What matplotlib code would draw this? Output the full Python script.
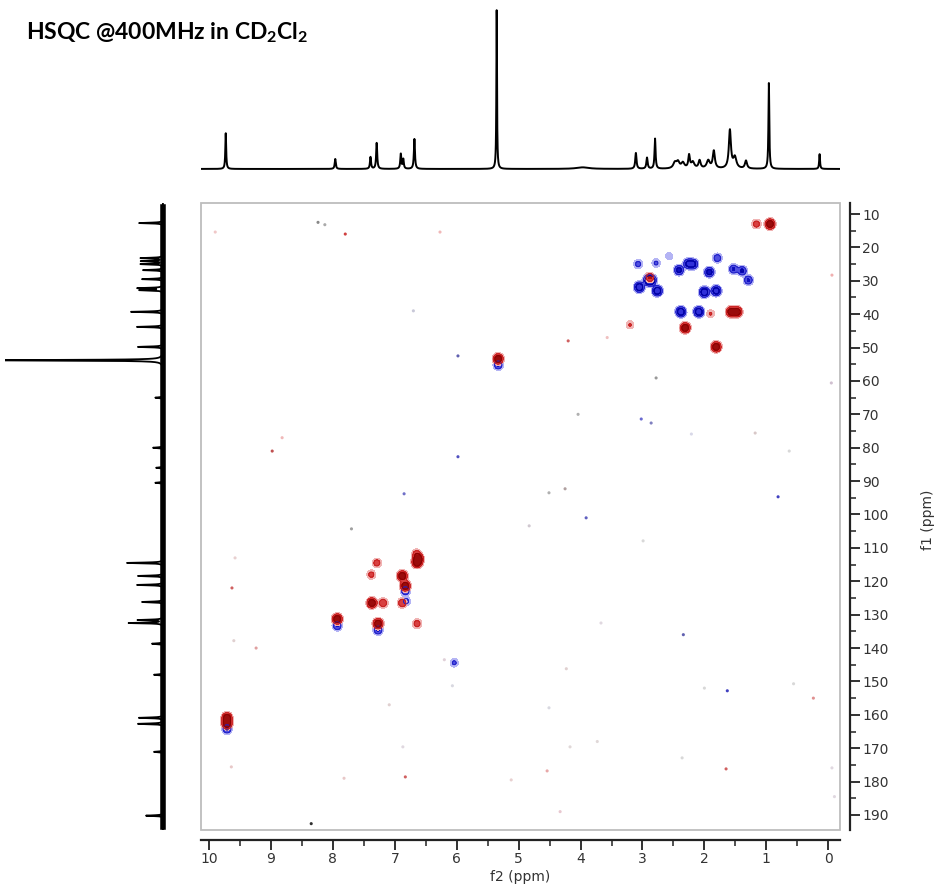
import numpy as np
import matplotlib
matplotlib.use("Agg")
import matplotlib.pyplot as plt
from matplotlib.patches import Rectangle
from matplotlib.ticker import MultipleLocator

plt.rcParams['mathtext.fontset'] = 'custom'
plt.rcParams['mathtext.bf'] = 'Lato:bold'
plt.rcParams['mathtext.rm'] = 'Lato:bold'

# 1H projection (f2): shift ppm, relative height, half-width ppm
h1_shift = [9.70, 7.93, 7.36, 7.26, 6.87, 6.83, 6.65, 5.32, 3.93, 3.07, 2.89, 2.76,
            2.44, 2.39, 2.31, 2.21, 2.15, 2.04, 1.90, 1.81, 1.55, 1.47, 1.29, 0.92, 0.10]
h1_height = [0.226, 0.063, 0.075, 0.164, 0.094, 0.06, 0.189, 1.0, 0.01, 0.10, 0.07, 0.19,
             0.035, 0.04, 0.035, 0.08, 0.04, 0.05, 0.05, 0.11, 0.24, 0.07, 0.05, 0.54, 0.094]
h1_width = [0.008, 0.01, 0.01, 0.01, 0.01, 0.01, 0.01, 0.006, 0.12, 0.012, 0.012, 0.01,
            0.03, 0.03, 0.03, 0.015, 0.03, 0.02, 0.03, 0.02, 0.02, 0.03, 0.02, 0.008, 0.008]

# 13C projection (f1): shift ppm, relative height
c13_shift = [12.7, 23.2, 24.1, 25.0, 26.8, 29.5, 32.2, 32.8, 39.3, 43.8, 49.8, 53.8,
             65.0, 80.0, 86.0, 90.5, 114.5, 118.4, 121.1, 126.2, 131.6, 132.5, 138.7,
             148.0, 160.9, 162.7, 171.1, 190.2]
c13_height = [0.157, 0.144, 0.14, 0.144, 0.13, 0.137, 0.163, 0.15, 0.21, 0.17, 0.163, 1.2,
              0.05, 0.065, 0.045, 0.05, 0.235, 0.163, 0.17, 0.137, 0.163, 0.222, 0.072,
              0.059, 0.157, 0.163, 0.059, 0.111]

# HSQC cross peaks: (f2, f1, amplitude); red = CH/CH3, blue = CH2
red_f2 = [0.94, 1.16, 2.88, 1.47, 1.57, 2.31, 1.81, 3.20, 1.90, 5.33,
          6.64, 6.62, 6.65, 7.29, 7.38, 6.88, 6.83, 7.37, 7.19, 6.88,
          7.93, 7.27, 6.64, 9.71, 9.71]
red_f1 = [13.0, 13.0, 29.0, 39.3, 39.3, 44.1, 49.8, 43.2, 39.9, 53.4,
          114.4, 113.2, 111.8, 114.5, 118.0, 118.4, 121.4, 126.5, 126.5, 126.5,
          131.3, 132.7, 132.7, 160.9, 162.7]
red_amp = [1.0, 0.35, 0.5, 0.9, 0.9, 1.0, 1.0, 0.22, 0.22, 1.0,
           1.0, 0.9, 0.35, 0.35, 0.3, 1.0, 1.0, 1.0, 0.45, 0.45,
           1.0, 1.0, 0.35, 1.0, 1.0]

blue_f2 = [3.07, 2.78, 2.57, 2.41, 2.26, 2.18, 1.92, 1.79, 1.53, 1.39, 1.29,
           3.05, 2.90, 2.86, 2.76, 2.00, 1.81, 2.38, 2.09,
           5.33, 6.83, 6.82, 7.93, 7.27, 9.71, 6.04]
blue_f1 = [25.0, 24.7, 22.6, 26.8, 24.9, 25.0, 27.4, 23.2, 26.5, 27.0, 29.8,
           31.9, 29.8, 29.8, 33.0, 33.4, 33.0, 39.3, 39.3,
           55.2, 122.8, 126.0, 133.3, 134.6, 164.2, 144.4]
blue_amp = [0.3, 0.25, 0.18, 0.7, 0.7, 0.7, 0.75, 0.4, 0.5, 0.55, 0.5,
            1.0, 1.0, 1.0, 1.0, 1.0, 0.9, 1.0, 1.0,
            0.5, 0.5, 0.3, 0.5, 0.5, 0.55, 0.25]

# weak artefact points across the map: (f2, f1, colour)
spot_f2 = [8.24, 8.13, 7.80, 9.90, 6.27, 3.57, -0.06, 2.78, -0.05, 6.70, 4.20, 5.98,
           4.04, 3.02, 2.86, 2.21, 1.18, 8.82, 8.98, 5.98, 0.63, 0.81, 6.85, 4.51,
           4.25, 7.70, 3.91, 4.83, 2.99, 9.58, 9.63, 9.60, 9.24, 2.34, 3.67, 4.23,
           6.20, 6.07, 2.00, 1.63, 0.56, 0.24, 4.51, 7.09, 9.64, 7.82, 6.87, 6.83,
           4.17, 4.54, 5.12, 3.73, 2.36, 1.65, -0.06, -0.10, 4.33, 8.35]
spot_f1 = [12.5, 13.2, 16.0, 15.4, 15.4, 47.0, 28.3, 59.1, 60.6, 39.0, 48.0, 52.5,
           70.0, 71.4, 72.6, 75.9, 75.6, 77.0, 81.0, 82.7, 81.0, 94.7, 93.8, 93.5,
           92.3, 104.3, 101.0, 103.4, 107.9, 113.0, 122.0, 137.8, 140.0, 136.0, 132.5, 146.2,
           143.5, 151.3, 152.0, 152.8, 150.7, 155.0, 157.9, 157.0, 175.6, 179.0, 169.6, 178.6,
           169.6, 176.8, 179.5, 168.0, 172.9, 176.2, 175.9, 184.5, 189.0, 192.6]
spot_col = ['#888888', '#aaaaaa', '#d04040', '#f0c8c8', '#f0b8b8', '#f0c0c0', '#f0b0b0', '#999999',
            '#d0c0d0', '#c8c8d8', '#d06060', '#6060b0', '#b0b0b0', '#6a6ad0', '#8080c0', '#d8d8e8',
            '#d8c8c8', '#f0b8b8', '#c05050', '#5050c0', '#d8d8d8', '#4040c0', '#7070c8', '#b0b0b0',
            '#b0a0a0', '#a0a0a0', '#6060c0', '#d0c8d0', '#d8d8d8', '#e8d0d0', '#d06060', '#e0d0d0',
            '#e0a0a0', '#6060b0', '#e0d8e0', '#e0d0d0', '#e0d0d8', '#d8d8e0', '#d8d8d8', '#4040c0',
            '#d8d8d8', '#e09090', '#d8d8e0', '#e0d0d0', '#e8c8c8', '#e8c8c8', '#e0d8e0', '#d06060',
            '#e0d8d8', '#e8a8a8', '#e8d0d0', '#e0d8d8', '#d8d8d8', '#d06060', '#e0d8e0', '#e0d8e0',
            '#e8c8d0', '#303030']

fig = plt.figure(figsize=(9.38, 8.88), dpi=100)
W, H = 938.0, 888.0

f2_lim = (10.13, -0.19)
f1_lim = (6.7, 194.5)


def peak_sum(grid, centers, heights, widths):
    out = np.zeros_like(grid)
    for c, h, w in zip(centers, heights, widths):
        out += h * w ** 2 / ((grid - c) ** 2 + w ** 2)
    return out


# main HSQC map
ax = fig.add_axes([201 / W, 1 - 830 / H, 639 / W, 627 / H])
gx = np.linspace(10.2, -0.3, 1100)
gy = np.linspace(6.0, 195.0, 1100)
X, Y = np.meshgrid(gx, gy)
sx, sy = 0.044, 0.85


def cross_map(f2s, f1s, amps):
    z = np.zeros_like(X)
    for a, b, amp in zip(f2s, f1s, amps):
        z += amp * np.exp(-((X - a) ** 2 / (2 * sx ** 2) + (Y - b) ** 2 / (2 * sy ** 2)))
    return z


zb = cross_map(blue_f2, blue_f1, blue_amp)
zr = cross_map(red_f2, red_f1, red_amp)
ax.contourf(X, Y, zb, levels=[0.08, 0.2, 0.45, 0.75, 50],
            colors=['#b4b4f4', '#5050e0', '#1010c0', '#3030d8'])
ax.contour(X, Y, zb, levels=[0.2, 0.5], colors=['#2020c8', '#0000a0'], linewidths=0.8)
ax.contourf(X, Y, zr, levels=[0.08, 0.2, 0.45, 0.75, 50],
            colors=['#f0b4b4', '#d84040', '#b01010', '#9a0c0c'])
ax.contour(X, Y, zr, levels=[0.2, 0.5], colors=['#c82020', '#8a0000'], linewidths=0.8)
ax.scatter(spot_f2, spot_f1, s=5, c=spot_col, linewidths=0, zorder=3)

ax.set_xlim(*f2_lim)
ax.set_ylim(f1_lim[1], f1_lim[0])
for side in ['top', 'left']:
    ax.spines[side].set_visible(False)
for side in ['bottom', 'right']:
    ax.spines[side].set_position(('outward', 7))
    ax.spines[side].set_color('#222222')
    ax.spines[side].set_linewidth(1.6)
ax.add_patch(Rectangle((0, 0), 1, 1, transform=ax.transAxes, fill=False,
                       ec='#bdbdbd', lw=1.3, clip_on=False, zorder=5))
ax.yaxis.tick_right()
ax.xaxis.set_minor_locator(MultipleLocator(0.5))
ax.yaxis.set_minor_locator(MultipleLocator(5))
ax.set_xticks(range(0, 11))
ax.set_yticks(range(10, 200, 10))
ax.tick_params(which='major', length=7, width=1.3, color='#222222',
               labelsize=10, labelcolor='#333333', pad=2)
ax.tick_params(which='minor', length=4, width=1.1, color='#222222')
ax.set_xlabel('f2 (ppm)', fontsize=10, color='#333333', labelpad=3)
fig.text(928 / W, 1 - 520 / H, 'f1 (ppm)', fontsize=10, color='#333333',
         rotation=90, ha='center', va='center')

# 1H projection on top
ax_top = fig.add_axes([201 / W, 1 - 175 / H, 639 / W, 167 / H])
h_grid = np.linspace(10.2, -0.3, 6000)
ax_top.plot(h_grid, peak_sum(h_grid, h1_shift, h1_height, h1_width), color='black', lw=1.4)
ax_top.set_xlim(10.1, -0.23)
ax_top.set_ylim(-0.038, 1.013)
ax_top.axis('off')

# 13C projection on the left
ax_left = fig.add_axes([5 / W, 1 - 830 / H, 165 / W, 627 / H])
c_grid = np.linspace(6.0, 195.0, 8000)
c_int = peak_sum(c_grid, c13_shift, c13_height, [0.12] * len(c13_shift))
ax_left.plot(c_int, c_grid, color='black', lw=1.3)
ax_left.plot(np.zeros(2), [8.0, 193.5], color='black', lw=4.0)
ax_left.set_xlim(1.033, -0.046)
ax_left.set_ylim(f1_lim[1], f1_lim[0])
ax_left.axis('off')

fig.text(26 / W, 1 - 33 / H, r'HSQC @400MHz in CD$_\mathbf{2}$Cl$_\mathbf{2}$',
         fontsize=16.5, fontweight='bold', family='Lato', va='center', ha='left')

fig.savefig('out.png', dpi=100, facecolor='white')
